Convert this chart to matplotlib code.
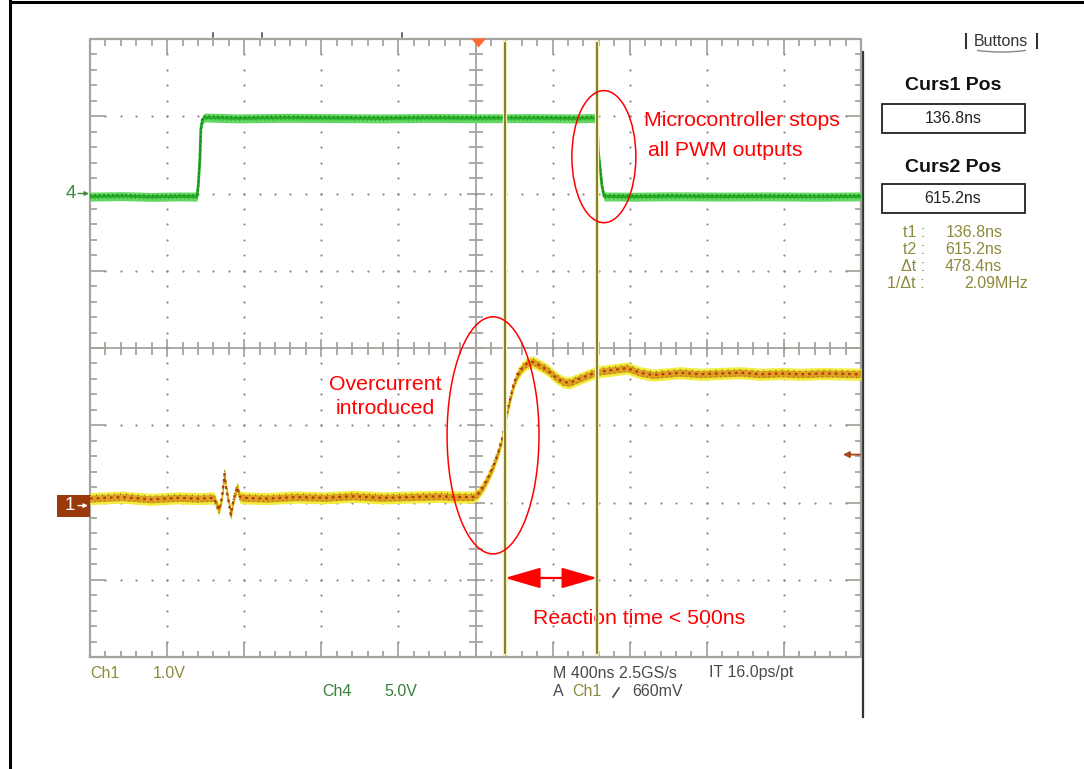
import numpy as np
import matplotlib
matplotlib.use("Agg")
import matplotlib.pyplot as plt
from matplotlib.patches import Ellipse, Rectangle, Polygon, Arc

# scope settings
time_scale = 400.0    # ns/div
ch1_scale = 1.0       # V/div
ch4_scale = 5.0       # V/div
ch1_ground = 1.96     # div above bottom of graticule
ch4_ground = 6.0
t_left = -2016.0      # ns at left edge (trigger = 0)
curs1 = 136.8         # ns
curs2 = 615.2
trig_level = 0.66     # V on Ch1

# Ch4 : PWM output (V)
ch4_t = [-2016, -1850, -1700, -1550, -1461, -1454, -1446, -1441, -1433, -1420,
         -1250, -1000, -750, -500, -250, 0, 250, 500, 606, 617,
         622, 632, 640, 651, 800, 1000, 1250, 1500, 1750, 1984]
ch4_v = [-0.20, -0.17, -0.22, -0.19, -0.20, 0.57, 2.19, 4.13, 4.78, 4.92,
         4.86, 4.90, 4.88, 4.86, 4.89, 4.87, 4.88, 4.86, 4.89, 4.07,
         2.64, 1.47, 0.50, -0.19, -0.21, -0.18, -0.20, -0.19, -0.21, -0.19]

# Ch1 : current sense (V)
ch1_t = [-2016, -1850, -1700, -1560, -1450, -1373, -1347, -1331, -1318, -1310,
         -1298, -1285, -1272, -1253, -1238, -1217, -1100, -950, -800, -650,
         -500, -350, -200, -100, -29, -3, 23, 49, 75, 101,
         121, 147, 163, 179, 199, 225, 251, 282, 319, 355,
         396, 438, 474, 511, 552, 614, 682, 770, 837, 905,
         1045, 1150, 1252, 1360, 1460, 1570, 1667, 1800, 1984]
ch1_v = [0.09, 0.11, 0.08, 0.10, 0.09, 0.10, -0.06, 0.11, 0.41, 0.23,
         0.07, -0.12, 0.07, 0.24, 0.11, 0.10, 0.09, 0.11, 0.10, 0.12,
         0.10, 0.11, 0.12, 0.11, 0.11, 0.15, 0.24, 0.36, 0.50, 0.68,
         0.85, 1.20, 1.37, 1.54, 1.68, 1.78, 1.84, 1.86, 1.81, 1.76,
         1.67, 1.60, 1.59, 1.63, 1.67, 1.73, 1.75, 1.78, 1.72, 1.69,
         1.72, 1.70, 1.71, 1.72, 1.70, 1.71, 1.70, 1.71, 1.70]

W, H = 1084, 769
fig = plt.figure(figsize=(W / 100, H / 100), dpi=100, facecolor='white')

# pixel-space layer for frame / side panel
deco = fig.add_axes([0, 0, 1, 1], zorder=0)
deco.set_xlim(0, W)
deco.set_ylim(H, 0)
deco.axis('off')

# graticule axes
gl, gr, gt, gb = 90, 861, 39, 657
ax = fig.add_axes([gl / W, (H - gb) / H, (gr - gl) / W, (gb - gt) / H], zorder=1)
ax.patch.set_alpha(0)
x0, x1 = t_left, t_left + 10 * time_scale
ax.set_xlim(x0, x1)
ax.set_ylim(0, 8)
ax.axis('off')

ppx = (x1 - x0) / (gr - gl)   # ns per pixel
ppy = 8.0 / (gb - gt)         # div per pixel

SCOPE = 'Liberation Sans'
gc = '#A7A39D'

# graticule
ax.plot([x0, x1, x1, x0, x0], [0, 0, 8, 8, 0], color=gc, lw=1.6, clip_on=False)
xc = t_left + 5 * time_scale
ax.plot([xc, xc], [0, 8], color=gc, lw=1.3)
ax.plot([x0, x1], [4, 4], color=gc, lw=1.3)

minor_t = t_left + np.arange(1, 50) * time_scale / 5
major_t = (np.arange(1, 50) % 5 == 0)
minor_y = np.arange(1, 40) * 0.2
major_y = (np.arange(1, 40) % 5 == 0)

edge_x = np.where(major_t, 15, 6.5) * ppy
ax.vlines(minor_t, 8 - edge_x, 8, color=gc, lw=1.3)
ax.vlines(minor_t, 0, edge_x, color=gc, lw=1.3)
cen_x = np.where(major_t, 9, 6.5) * ppy
ax.vlines(minor_t, 4 - cen_x, 4 + cen_x, color=gc, lw=1.3)

edge_y = np.where(major_y, 15, 6.5) * ppx
ax.hlines(minor_y, x0, x0 + edge_y, color=gc, lw=1.3)
ax.hlines(minor_y, x1 - edge_y, x1, color=gc, lw=1.3)
cen_y = np.where(major_y, 9, 7) * ppx
ax.hlines(minor_y, xc - cen_y, xc + cen_y, color=gc, lw=1.3)

for row in [1, 2, 3, 5, 6, 7]:
    ax.plot(minor_t, np.full(len(minor_t), row), ls='none', marker='o',
            ms=1.6, mew=0, color='#8E8A84')
for col in [1, 2, 3, 4, 6, 7, 8, 9]:
    ax.plot(np.full(len(minor_y), t_left + col * time_scale), minor_y, ls='none',
            marker='o', ms=1.6, mew=0, color='#8E8A84')

# Ch4 trace
ch4_div = ch4_ground + np.array(ch4_v) / ch4_scale
ax.fill_between(ch4_t, ch4_div - 0.058, ch4_div + 0.058, color='#62D862', lw=0, zorder=3)
ax.plot(ch4_t, ch4_div, color='#24AA24', lw=2.0, zorder=4)
ax.plot(ch4_t, ch4_div + 0.02, color='#137813', lw=1.0, dashes=(1.0, 2.2), zorder=4)
ax.plot(ch4_t, ch4_div - 0.025, color='#1A8A1A', lw=0.8, dashes=(0.7, 3.0), zorder=4)

# Ch1 trace
ch1_div = ch1_ground + np.array(ch1_v) / ch1_scale
ax.fill_between(ch1_t, ch1_div - 0.078, ch1_div + 0.078, color='#F2EC3E', lw=0, zorder=3)
ax.fill_between(ch1_t, ch1_div - 0.045, ch1_div + 0.045, color='#DDA020', lw=0, zorder=3)
ax.plot(ch1_t, ch1_div, color='#B5360C', lw=1.6, dashes=(1.2, 1.8), zorder=4)
ax.plot(ch1_t, ch1_div + 0.04, color='#776A12', lw=0.9, dashes=(0.8, 4.0), zorder=4)
ax.plot(ch1_t, ch1_div - 0.04, color='#8A5A10', lw=0.9, dashes=(0.6, 3.3), zorder=4)

# cursors
for c in (curs1, curs2):
    ax.plot([c, c], [0.05, 7.95], color='#F4F0B4', lw=3.2, zorder=5)
    ax.plot([c, c], [0.05, 7.95], color='#6E6A1C', lw=1.2, zorder=6)

# trigger position marker
ax.add_patch(Polygon([(-7.5 * ppx, 8 + 0.5 * ppy), (7.5 * ppx, 8 + 0.5 * ppy), (0, 8 - 8.5 * ppy)],
                     closed=True, color='#FF6A33', lw=0, clip_on=False, zorder=7))

# trigger level marker
yl = ch1_ground + trig_level / ch1_scale
ax.annotate('', xy=(x1 - 18 * ppx, yl), xytext=(x1 - 1 * ppx, yl),
            arrowprops=dict(arrowstyle='-|>', color='#A4481C', lw=1.3, mutation_scale=9,
                            shrinkA=0, shrinkB=0), annotation_clip=False)

# channel ground markers
ax.text(x0 - 19 * ppx, ch4_ground, '4', color='#3A8A3A', fontsize=13.5, family=SCOPE,
        ha='center', va='center', clip_on=False)
ax.annotate('', xy=(x0 - 1 * ppx, ch4_ground), xytext=(x0 - 12 * ppx, ch4_ground),
            arrowprops=dict(arrowstyle='-|>', color='#3A8A3A', lw=1.0, mutation_scale=6,
                            shrinkA=0, shrinkB=0), annotation_clip=False)
ax.add_patch(Rectangle((x0 - 33 * ppx, ch1_ground - 11 * ppy), 33 * ppx, 22 * ppy,
                       color='#9A3A0A', lw=0, clip_on=False, zorder=2))
ax.text(x0 - 20 * ppx, ch1_ground, '1', color='white', fontsize=13.5, family=SCOPE,
        ha='center', va='center', clip_on=False, zorder=3)
ax.annotate('', xy=(x0 - 2 * ppx, ch1_ground), xytext=(x0 - 12 * ppx, ch1_ground),
            arrowprops=dict(arrowstyle='-|>', color='white', lw=1.0, mutation_scale=6,
                            shrinkA=0, shrinkB=0), annotation_clip=False, zorder=3)

# red annotations
ax.add_patch(Ellipse((650, 6.477), 332, 1.71, fill=False, ec='red', lw=1.1, zorder=8, clip_on=False))
ax.add_patch(Ellipse((75, 2.869), 477, 3.07, fill=False, ec='red', lw=1.1, zorder=8, clip_on=False))
ax.annotate('', xy=(curs1, 1.023), xytext=(curs2, 1.023),
            arrowprops=dict(arrowstyle='<|-|>,head_length=1.1,head_width=0.32',
                            mutation_scale=20, color='red', lw=1.6, shrinkA=0, shrinkB=0),
            zorder=8)

RED = dict(color='red', fontsize=15.3, family='Liberation Sans', va='center')
deco.text(644, 120, 'Microcontroller stops', ha='left', **RED)
deco.text(648, 150, 'all PWM outputs', ha='left', **RED)
deco.text(385, 385, 'Overcurrent', ha='center', **RED)
deco.text(385, 409, 'introduced', ha='center', **RED)
deco.text(533, 618, 'Reaction time < 500ns', ha='left', **RED)

# frame
deco.plot([10, 10], [0, H], color='black', lw=2.2)
deco.plot([10, W], [2, 2], color='black', lw=2.2)
deco.plot([863, 863], [52, 717], color='#333333', lw=1.6)
for mx in (213, 262, 402):
    deco.plot([mx, mx], [33, 37], color='#555555', lw=1.2)

# side panel
deco.text(1001, 41, 'Buttons', ha='center', va='center', fontsize=11.5, family=SCOPE, color='#333333')
deco.plot([966, 966], [34, 48], color='#333333', lw=1.5)
deco.plot([1037, 1037], [34, 48], color='#333333', lw=1.5)
deco.add_patch(Arc((1001.5, 46), 71, 12, theta1=10, theta2=170, color='#888888', lw=1.0))

deco.text(953, 86, 'Curs1 Pos', ha='center', va='center', fontsize=14, weight='bold',
          family='Liberation Sans', color='#111111')
deco.add_patch(Rectangle((882, 104), 143, 29, fill=False, ec='#222222', lw=1.3))
deco.text(953, 118.5, f'{curs1:.1f}ns', ha='center', va='center', fontsize=11.5,
          family=SCOPE, color='#222222')
deco.text(953, 167, 'Curs2 Pos', ha='center', va='center', fontsize=14, weight='bold',
          family='Liberation Sans', color='#111111')
deco.add_patch(Rectangle((882, 184), 143, 29, fill=False, ec='#222222', lw=1.3))
deco.text(953, 198.5, f'{curs2:.1f}ns', ha='center', va='center', fontsize=11.5,
          family=SCOPE, color='#222222')

OLV = '#8E893C'
dt = curs2 - curs1
readout = [('t1 :', f'{curs1:.1f}ns', 946),
           ('t2 :', f'{curs2:.1f}ns', 945),
           ('\u0394t :', f'{dt:.1f}ns', 945),
           ('1/\u0394t :', f'{1e3 / dt:.2f}MHz', 964)]
for i, (lab, val, vx) in enumerate(readout):
    yy = 232.5 + i * 17
    deco.text(925, yy, lab, ha='right', va='center', fontsize=11.5, family=SCOPE, color=OLV)
    deco.text(vx, yy, val, ha='left', va='center', fontsize=11.5, family=SCOPE, color=OLV)

# bottom readouts
GRY = '#4A4A4A'
BOT = dict(fontsize=11.5, family=SCOPE, va='center', ha='left')
deco.text(90, 673, 'Ch1', color=OLV, **BOT)
deco.text(153, 673, f'{ch1_scale:.1f}V', color=OLV, **BOT)
deco.text(322, 691, 'Ch4', color='#3A7F3A', **BOT)
deco.text(384, 691, f'{ch4_scale:.1f}V', color='#3A7F3A', **BOT)
deco.text(553, 673, f'M {time_scale:.0f}ns 2.5GS/s', color=GRY, **BOT)
deco.text(709, 673, 'IT 16.0ps/pt', color=GRY, **BOT)
deco.text(553, 692, 'A', color=GRY, **BOT)
deco.text(572, 692, 'Ch1', color=OLV, **BOT)
deco.plot([613, 619], [697, 688], color=GRY, lw=1.2)
deco.text(632, 692, f'{trig_level * 1000:.0f}mV', color=GRY, **BOT)

fig.savefig('out.png', dpi=100, facecolor='white')
